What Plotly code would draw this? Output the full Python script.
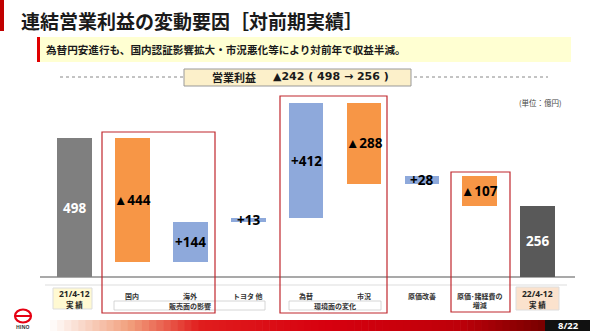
import plotly.graph_objects as go

# ---------------- data ----------------
categories = ["21/4-12 実績", "国内", "海外", "トヨタ 他", "為替", "市況", "原価改善", "原価･諸経費の<br>増減", "22/4-12 実績"]
values = [498, -444, 144, 13, 412, -288, 28, -107, 256]
kinds = ["total", "delta", "delta", "delta", "delta", "delta", "delta", "delta", "total"]

W, H = 590, 331
JP = "Noto Sans CJK JP"
NUM = "Open Sans"

def px(x):
    return x / W

def py(y):
    return 1 - y / H

# waterfall bases
bases, heights, labels, colors, tcolors = [], [], [], [], []
run = 0
for i, (v, k) in enumerate(zip(values, kinds)):
    if k == "total":
        bases.append(0)
        heights.append(v)
        run = v
        labels.append(str(v))
        colors.append("#7F7F7F" if i == 0 else "#595959")
        tcolors.append("white")
    else:
        new = run + v
        bases.append(min(run, new))
        heights.append(abs(v))
        run = new
        labels.append(("+" if v > 0 else "▲") + str(abs(v)))
        colors.append("#8EA9DB" if v > 0 else "#F79646")
        tcolors.append("black")

xs = list(range(len(categories)))

fig = go.Figure()
fig.add_trace(go.Bar(
    x=xs, y=heights, base=bases, width=0.6,
    marker=dict(color=colors, line=dict(width=0)),
    hoverinfo="skip", showlegend=False,
))

ann = []
shapes = []

# value labels
for x, b, h, lab, tc in zip(xs, bases, heights, labels, tcolors):
    ann.append(dict(x=x, y=b + h / 2, xref="x", yref="y", text="<b>%s</b>" % lab,
                    showarrow=False, font=dict(family=NUM, size=13.5, color=tc),
                    xanchor="center", yanchor="middle"))

# category labels (middle categories)
for x, c in zip(xs[1:-1], categories[1:-1]):
    ann.append(dict(x=x, y=py(289), xref="x", yref="paper", text="<b>%s</b>" % c,
                    showarrow=False, font=dict(family=JP, size=7, color="#333333"),
                    xanchor="center", yanchor="top"))

# start / end labels in boxes
for x, c in [(xs[0], categories[0]), (xs[-1], categories[-1])]:
    a, b = c.split(" ")
    ann.append(dict(x=x, y=py(293.5), xref="x", yref="paper", text="<b>%s</b>" % a,
                    showarrow=False, font=dict(family=NUM, size=8.5, color="#222222"),
                    xanchor="center", yanchor="middle", borderpad=0))
    ann.append(dict(x=x, y=py(304), xref="x", yref="paper", text="<b>%s</b>" % (b[0] + " " + b[1]),
                    showarrow=False, font=dict(family=JP, size=7.5, color="#222222"),
                    xanchor="center", yanchor="middle", borderpad=0))

# title
ann.append(dict(x=px(19), y=py(20), xref="paper", yref="paper",
                text="<b>連結営業利益の変動要因［対前期実績］</b>", showarrow=False,
                font=dict(family=JP, size=19, color="#1a1a1a"), xanchor="left", yanchor="middle"))
# subtitle
ann.append(dict(x=px(44), y=py(50), xref="paper", yref="paper",
                text="<b>為替円安進行も、国内認証影響拡大・市況悪化等により対前年で収益半減。</b>",
                showarrow=False, font=dict(family=JP, size=10.6, color="#1a1a1a"),
                xanchor="left", yanchor="middle"))
# header
ann.append(dict(x=px(234), y=py(77), xref="paper", yref="paper", text="<b>営業利益</b>",
                showarrow=False, font=dict(family=JP, size=11, color="#1a1a1a"),
                xanchor="center", yanchor="middle"))
diff = values[0] - values[-1]
ann.append(dict(x=px(271), y=py(77), xref="paper", yref="paper",
                text="<b>▲%d ( %d → %d )</b>" % (diff, values[0], values[-1]),
                showarrow=False, font=dict(family="DejaVu Sans", size=11, color="#1a1a1a"),
                xanchor="left", yanchor="middle"))
# unit
ann.append(dict(x=px(564), y=py(103), xref="paper", yref="paper", text="(単位：億円)",
                showarrow=False, font=dict(family=JP, size=7.5, color="#444444"),
                xanchor="right", yanchor="middle"))
# sub group labels
ann.append(dict(x=px(190), y=py(305.5), xref="paper", yref="paper", text="<b>販売面の影響</b>",
                showarrow=False, font=dict(family=JP, size=7, color="#333333"),
                xanchor="center", yanchor="middle"))
ann.append(dict(x=px(335), y=py(305.5), xref="paper", yref="paper", text="<b>環境面の変化</b>",
                showarrow=False, font=dict(family=JP, size=7, color="#333333"),
                xanchor="center", yanchor="middle"))
# page number
ann.append(dict(x=px(568), y=py(325.5), xref="paper", yref="paper", text="<b>8/22</b>",
                showarrow=False, font=dict(family=NUM, size=9.5, color="white"),
                xanchor="center", yanchor="middle", borderpad=0))
# logo text
ann.append(dict(x=px(23), y=py(326.5), xref="paper", yref="paper", text="<b>HINO</b>",
                showarrow=False, font=dict(family=NUM, size=5, color="#333333"),
                xanchor="center", yanchor="middle"))

def rect(x0, y0, x1, y1, fill="rgba(0,0,0,0)", line="rgba(0,0,0,0)", lw=0, layer="below", dash=None):
    d = dict(type="rect", xref="paper", yref="paper", x0=px(x0), x1=px(x1), y0=py(y1), y1=py(y0),
             fillcolor=fill, line=dict(color=line, width=lw), layer=layer)
    if dash:
        d["line"]["dash"] = dash
    shapes.append(d)

def hline(x0, x1, y, color, lw, dash=None, layer="below"):
    d = dict(type="line", xref="paper", yref="paper", x0=px(x0), x1=px(x1), y0=py(y), y1=py(y),
             line=dict(color=color, width=lw), layer=layer)
    if dash:
        d["line"]["dash"] = dash
    shapes.append(d)

# title bar
rect(0, 0, 4, 31, fill="#C00000")
# subtitle band
rect(37, 37, 571, 62, fill="#FFFFD2")
rect(37, 37, 40, 62, fill="#E00000")
# dotted line and header box
hline(60, 548, 77, "#888888", 1, dash="dot")
rect(184, 69, 411, 86, fill="#FCF0CA", line="#999999", lw=1, layer="above")
# axis lines
hline(40, 575, 277, "#8C8C8C", 1.3)
hline(45, 567, 285, "#DDDDDD", 1)
# start/end boxes
rect(53, 288, 92, 309, fill="#FFF9D2", line="#DDDDDD", lw=1)
rect(516, 287, 559, 310, fill="#FBE2CD", line="#DDDDDD", lw=1)
# sub label boxes
rect(114, 301, 265, 310, fill="white", line="#CCCCCC", lw=0.8)
rect(289, 301, 381, 310, fill="white", line="#CCCCCC", lw=0.8)
# red group boxes
rect(102, 132, 215, 313, line="#C0272D", lw=1.2, layer="above")
rect(280, 96, 387, 313, line="#C0272D", lw=1.2, layer="above")
rect(451, 172, 510, 312, line="#C0272D", lw=1.2, layer="above")

# bottom gradient band
stops = [(50, (255, 255, 255)), (130, (242, 160, 125)), (200, (225, 30, 30)),
         (330, (215, 0, 15)), (460, (190, 0, 10)), (545, (120, 0, 0))]
n = 70
for k in range(n):
    x0 = 50 + (545 - 50) * k / n
    x1 = 50 + (545 - 50) * (k + 1) / n + 0.6
    xm = (x0 + x1) / 2
    for j in range(len(stops) - 1):
        if stops[j][0] <= xm <= stops[j + 1][0]:
            t = (xm - stops[j][0]) / (stops[j + 1][0] - stops[j][0])
            c = tuple(int(stops[j][1][m] + (stops[j + 1][1][m] - stops[j][1][m]) * t) for m in range(3))
            break
    rect(x0, 320, x1, 331, fill="rgb(%d,%d,%d)" % c)
rect(545, 320, 590, 331, fill="#111111")

# logo
shapes.append(dict(type="circle", xref="paper", yref="paper", x0=px(15), x1=px(31), y0=py(322.5), y1=py(309.5),
                   line=dict(color="#E60012", width=2.2), layer="above"))
rect(15, 315, 31, 317, fill="#E60012", layer="above")

fig.update_layout(
    width=W, height=H, autosize=False,
    margin=dict(l=0, r=0, t=0, b=0),
    paper_bgcolor="white", plot_bgcolor="white",
    xaxis=dict(range=[-74.5 / 57.9, (W - 74.5) / 57.9], visible=False, fixedrange=True),
    yaxis=dict(range=[(277 - H) / 0.279, 277 / 0.279], visible=False, fixedrange=True),
    annotations=ann, shapes=shapes, bargap=0,
)

fig.write_html("out.html", config={"displayModeBar": False})
